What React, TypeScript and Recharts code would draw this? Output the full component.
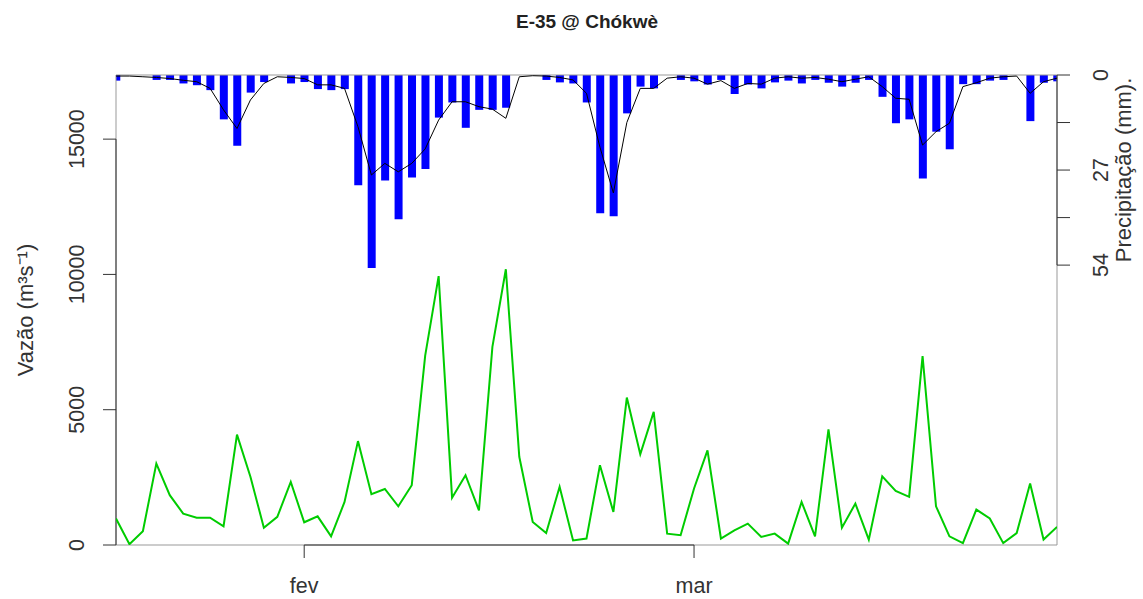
import React from 'react';
import { ComposedChart, Bar, Line, XAxis, YAxis, ReferenceLine } from 'recharts';

// daily values, 18 Jan .. 28 Mar (71 days)
const vazao = [
  980, 30, 510, 3010, 1840, 1160, 1010, 1010, 690, 4080,
  2520, 640, 1040, 2330, 840, 1060, 320, 1590, 3840, 1880,
  2070, 1430, 2210, 7000, 9940, 1750, 2580, 1280, 7320, 10190,
  3260, 850, 440, 2150, 170, 240, 2950, 1220, 5450, 3350,
  4920, 420, 360, 2090, 3500, 240, 540, 790, 300, 420,
  50, 1590, 320, 4270, 640, 1530, 200, 2540, 2000, 1780,
  6980, 1430, 320, 70, 1310, 980, 70, 440, 2270, 200,
  670,
];

const precip = [
  1.6, 0, 0, 1.4, 1.4, 2.4, 2.9, 4.3, 12.6, 20.1,
  5.0, 2.0, 0, 2.4, 2.0, 4.0, 4.3, 4.0, 31.3, 54.8,
  30.0, 41.0, 29.1, 26.7, 12.1, 7.8, 15.0, 9.9, 9.9, 9.3,
  0, 0, 1.4, 2.1, 2.4, 7.8, 39.3, 40.1, 10.9, 3.3,
  3.8, 0, 1.4, 1.8, 2.7, 1.4, 5.4, 2.7, 3.8, 2.1,
  1.6, 2.4, 1.4, 2.2, 3.3, 2.2, 1.4, 6.2, 13.7, 12.6,
  29.4, 16.1, 21.1, 2.6, 2.6, 1.6, 1.4, 0, 13.1, 2.2,
  1.8,
];

const precipSuave = [
  0.3, 0.3, 0.5, 0.7, 1.0, 1.5, 1.9, 3.8, 9.9, 15.2,
  7.1, 2.4, 0.5, 0.7, 1.0, 2.8, 2.8, 3.8, 14.7, 28.4,
  25.1, 27.5, 25.1, 21.0, 12.8, 7.6, 7.6, 9.0, 9.7, 12.3,
  0.5, 0.2, 0.3, 0.7, 1.4, 5.2, 20.5, 33.5, 13.5, 3.8,
  3.8, 0.9, 0.5, 0.9, 2.6, 1.6, 3.8, 2.4, 2.6, 0.9,
  0.5, 0.9, 0.7, 1.2, 1.9, 1.2, 0.5, 3.3, 6.6, 6.9,
  19.9, 16.1, 13.7, 3.3, 2.2, 0.9, 0.5, 0.3, 5.2, 1.9,
  0.9,
];

const mesTicks = [14, 43];
const mesLabels = ['fev', 'mar'];
const vazaoTicks = [0, 5000, 10000, 15000];
const precipTicks = [0, 13.5, 27, 40.5, 54];
const precipLabels = [0, 27, 54];

const data = vazao.map((v, i) => ({
  i,
  vazao: v,
  precip: precip[i],
  suave: precipSuave[i],
}));

const FONT = '"Liberation Sans", Arial, sans-serif';
const TXT = '#333';

const LeftTick = ({ y, payload }: any) => (
  <text x={84} y={y} transform={`rotate(-90, 84, ${y})`} textAnchor="middle"
    fontSize={21.5} fill={TXT} fontFamily={FONT}>{payload.value}</text>
);

const RightTick = ({ y, payload }: any) =>
  precipLabels.includes(payload.value) ? (
    <text x={1108} y={y} transform={`rotate(-90, 1108, ${y})`} textAnchor="middle"
      fontSize={21.5} fill={TXT} fontFamily={FONT}>{payload.value}</text>
  ) : <g />;

const BottomTick = ({ x, payload }: any) => (
  <text x={x} y={593} textAnchor="middle" fontSize={21.5} fill={TXT} fontFamily={FONT}>
    {mesLabels[mesTicks.indexOf(payload.value)]}
  </text>
);

export default function App() {
  return (
    <div style={{ position: 'absolute', left: 0, top: 0, width: 1143, height: 599, background: '#fff' }}>
      <ComposedChart width={1143} height={599} data={data}
        margin={{ top: 75, right: 0, bottom: 0, left: 0 }}>
        <XAxis dataKey="i" type="number" domain={[0, 70]} allowDataOverflow
          ticks={mesTicks} height={54} tickSize={13} axisLine={false}
          tickLine={{ stroke: TXT }} tick={<BottomTick />} />
        <YAxis yAxisId="q" orientation="left" width={116} domain={[0, 17370]}
          allowDataOverflow ticks={vazaoTicks} tickSize={13} axisLine={false}
          tickLine={{ stroke: TXT }} tick={<LeftTick />} />
        <YAxis yAxisId="p" orientation="right" width={86} domain={[0, 133.5]} reversed
          allowDataOverflow ticks={precipTicks} tickSize={13} axisLine={false}
          tickLine={{ stroke: TXT }} tick={<RightTick />} />

        {/* plot box */}
        <ReferenceLine yAxisId="q" y={0} stroke="#999" />
        <ReferenceLine yAxisId="q" y={17370} stroke="#999" />
        <ReferenceLine yAxisId="q" x={0} stroke="#999" />
        <ReferenceLine yAxisId="q" x={70} stroke="#999" />
        {/* axis lines between first and last tick, R style */}
        <ReferenceLine yAxisId="q" segment={[{ x: 0, y: 0 }, { x: 0, y: 15000 }]} stroke={TXT} />
        <ReferenceLine yAxisId="q" segment={[{ x: 14, y: 0 }, { x: 43, y: 0 }]} stroke={TXT} />
        <ReferenceLine yAxisId="p" segment={[{ x: 70, y: 0 }, { x: 70, y: 54 }]} stroke={TXT} />

        <Line yAxisId="q" dataKey="vazao" type="linear" stroke="#00cc00" strokeWidth={2}
          dot={false} isAnimationActive={false} />
        <Bar yAxisId="p" dataKey="precip" fill="#0000ff" barSize={8} isAnimationActive={false} />
        <Line yAxisId="p" dataKey="suave" type="linear" stroke="#000" strokeWidth={1}
          dot={false} isAnimationActive={false} />
      </ComposedChart>

      <svg width={1143} height={599} style={{ position: 'absolute', left: 0, top: 0, pointerEvents: 'none' }}>
        <text x={587} y={28} textAnchor="middle" fontSize={19} fontWeight="bold" fill="#222" fontFamily={FONT}>
          E-35 @ Chókwè
        </text>
        <text x={33} y={310} transform="rotate(-90, 33, 310)" textAnchor="middle" fontSize={22}
          fill={TXT} fontFamily={FONT}>
          Vazão (m³s⁻¹)
        </text>
        <text x={1131} y={170} transform="rotate(-90, 1131, 170)" textAnchor="middle" fontSize={22}
          fill={TXT} fontFamily={FONT}>
          Precipitação (mm).
        </text>
      </svg>
    </div>
  );
}
